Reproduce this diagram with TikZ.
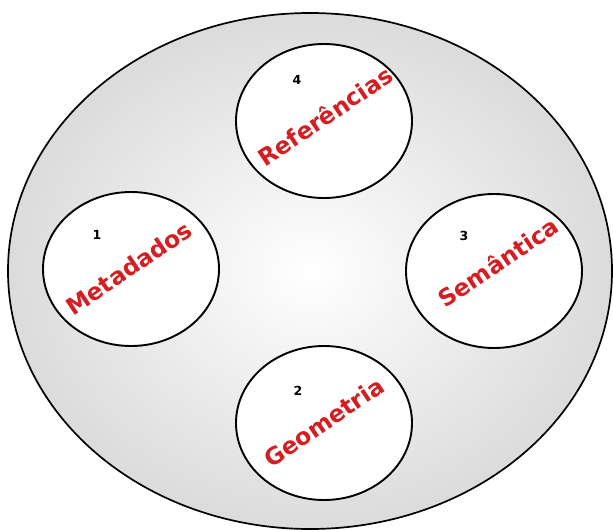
\documentclass[tikz,border=0pt]{standalone}
\usepackage{fontspec}
\usetikzlibrary{shapes.geometric}
\newfontfamily\lblfont{DejaVu Sans}
\definecolor{myred}{RGB}{212,30,34}
\begin{document}
\begin{tikzpicture}[x=1pt,y=-1pt,
  area/.style={ellipse, draw=black, line width=1.7pt, shading=radial, inner color=white, outer color=gray!28, minimum width=604pt, minimum height=516pt, inner sep=0pt},
  part/.style={ellipse, draw=black, line width=1.9pt, fill=white, minimum width=176pt, minimum height=154pt, inner sep=0pt},
  num/.style={font=\lblfont\bfseries\fontsize{12.5}{14}\selectfont, text=black},
  word/.style={font=\lblfont\bfseries\fontsize{23.5}{27}\selectfont, text=myred, rotate=34, inner sep=0pt}
]
\useasboundingbox (0,0) rectangle (613,530);
\node[area] (outer) at (310,271) {};
\node[part] (c4) at (324,121) {};
\node[part] (c1) at (131,269) {};
\node[part] (c3) at (494,271) {};
\node[part] (c2) at (324,423) {};
\node[num] (n4) at (297,80) {4};
\node[num] (n1) at (97,235) {1};
\node[num] (n3) at (464,236) {3};
\node[num] (n2) at (298,391) {2};
\node[word] (w4) at (325,116) {Referências};
\node[word] (w1) at (129,268) {Metadados};
\node[word] (w3) at (498,262) {Semântica};
\node[word] (w2) at (324,422) {Geometria};
\end{tikzpicture}
\end{document}
